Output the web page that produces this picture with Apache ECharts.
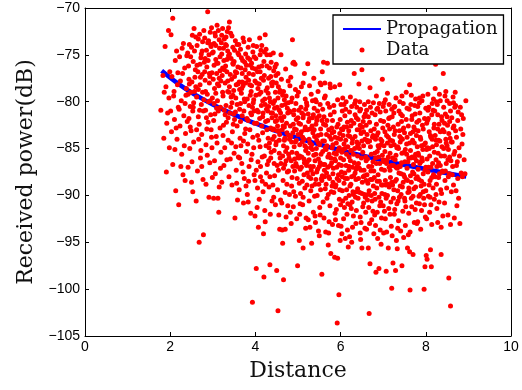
<!DOCTYPE html>
<html>
<head>
<meta charset="utf-8">
<script src="https://cdn.jsdelivr.net/npm/echarts@6/dist/echarts.min.js"></script>
<style>html,body{margin:0;padding:0;background:#fff;}#c{width:522px;height:390px;}</style>
</head>
<body>
<div id="c"></div>
<script>
const xTicks = [0, 2, 4, 6, 8, 10];
const yTicks = [-105, -100, -95, -90, -85, -80, -75, -70];
const propX = [1.8, 2.2, 2.6, 3.0, 3.5, 4.0, 4.5, 5.0, 5.5, 6.0, 6.5, 7.0, 7.5, 8.0, 8.5, 8.95];
const propY = [-76.7, -78.12, -79.29, -80.3, -81.38, -82.32, -83.15, -83.89, -84.56, -85.18, -85.74, -86.26, -86.75, -87.2, -87.63, -87.99];
const dataPoints = [
[1.78,-80.9],[1.85,-83.9],[1.88,-74.1],[1.91,-87.5],[1.96,-72.4],[1.83,-77.2],[1.90,-78.4],[1.94,-81.2],[1.97,-79.6],[1.99,-76.8],[1.92,-82.3],[1.86,-79.0],[1.98,-84.9],
[2.02,-72.85],[2.06,-71.1],[2.04,-77.3],[2.08,-79.4],[2.10,-81.9],[2.03,-83.2],[2.12,-75.6],[2.15,-74.6],[2.17,-78.2],[2.11,-85.1],[2.06,-86.7],[2.19,-80.6],[2.14,-82.8],[2.18,-76.9],[2.09,-78.9],[2.16,-84.0],[2.13,-89.5],[2.01,-81.0],
[2.20,-91.0],[2.22,-75.2],[2.24,-77.8],[2.26,-79.9],[2.28,-74.3],[2.30,-87.8],[2.32,-81.5],[2.34,-76.4],[2.36,-83.4],[2.38,-78.6],[2.23,-82.6],[2.27,-85.6],[2.31,-73.8],[2.35,-80.2],[2.39,-75.1],[2.25,-86.9],[2.29,-77.0],[2.33,-84.7],[2.37,-79.3],[2.21,-80.8],[2.35,-88.4],[2.40,-82.1],
[2.41,-74.8],[2.43,-76.2],[2.45,-78.1],[2.47,-80.5],[2.49,-83.1],[2.50,-88.6],[2.52,-72.9],[2.54,-75.7],[2.56,-72.2],[2.58,-77.4],[2.44,-81.8],[2.46,-85.0],[2.48,-79.0],[2.51,-86.4],[2.53,-81.0],[2.55,-84.3],[2.57,-78.9],[2.59,-76.6],[2.42,-87.0],[2.50,-74.2],[2.55,-80.1],[2.47,-82.7],[2.60,-73.1],[2.53,-89.6],[2.44,-77.6],
[2.61,-90.6],[2.68,-95.0],[2.78,-94.2],[2.62,-79.5],[2.63,-74.0],[2.65,-76.8],[2.66,-81.6],[2.67,-84.0],[2.69,-72.8],[2.70,-78.2],[2.71,-86.0],[2.72,-75.3],[2.73,-80.3],[2.74,-83.5],[2.75,-77.1],[2.76,-73.6],[2.77,-88.3],[2.79,-79.8],[2.64,-87.4],[2.68,-82.4],[2.72,-85.2],[2.75,-74.6],[2.70,-76.0],[2.66,-78.7],[2.78,-81.0],[2.74,-86.9],[2.80,-75.8],[2.62,-83.0],
[2.88,-70.4],[2.81,-73.2],[2.82,-77.7],[2.83,-80.9],[2.84,-84.6],[2.85,-74.5],[2.86,-76.3],[2.87,-79.2],[2.89,-82.2],[2.90,-73.5],[2.91,-75.0],[2.92,-78.0],[2.93,-86.5],[2.94,-72.6],[2.95,-81.4],[2.96,-74.1],[2.97,-83.8],[2.98,-76.9],[2.99,-79.6],[2.84,-88.8],[2.87,-85.7],[2.90,-80.0],[2.93,-77.3],[2.96,-83.0],[2.82,-75.4],[2.99,-88.1],[2.86,-82.9],[2.95,-73.9],[2.91,-90.2],[2.98,-84.9],
[3.02,-90.3],[3.12,-90.3],[3.14,-91.8],[3.15,-89.1],[3.10,-71.85],[3.01,-74.7],[3.03,-76.1],[3.04,-78.6],[3.05,-81.3],[3.06,-73.0],[3.07,-75.5],[3.08,-83.7],[3.09,-77.0],[3.11,-79.9],[3.13,-72.4],[3.16,-74.3],[3.17,-76.7],[3.18,-80.6],[3.19,-85.4],[3.02,-82.0],[3.04,-86.3],[3.07,-79.1],[3.10,-84.4],[3.12,-75.9],[3.14,-78.3],[3.17,-82.8],[3.20,-73.7],[3.06,-87.7],[3.09,-80.7],[3.15,-77.5],[3.18,-87.1],[3.03,-73.8],
[3.23,-72.2],[3.34,-72.5],[3.39,-71.5],[3.21,-74.9],[3.22,-77.2],[3.24,-79.4],[3.25,-82.5],[3.26,-75.6],[3.27,-73.3],[3.28,-84.9],[3.29,-78.0],[3.30,-76.2],[3.31,-80.4],[3.32,-74.0],[3.33,-86.2],[3.35,-77.8],[3.36,-81.7],[3.37,-75.1],[3.38,-79.0],[3.21,-88.6],[3.24,-83.6],[3.27,-80.9],[3.30,-73.9],[3.33,-76.8],[3.36,-84.1],[3.39,-78.4],[3.26,-86.8],[3.32,-82.2],[3.35,-74.6],[3.38,-88.0],[3.23,-76.4],[3.40,-81.2],
[3.52,-92.4],[3.58,-90.5],[3.42,-72.7],[3.43,-75.4],[3.44,-77.6],[3.45,-80.1],[3.46,-83.2],[3.47,-74.2],[3.48,-76.0],[3.49,-78.8],[3.50,-85.5],[3.51,-81.9],[3.53,-73.5],[3.54,-79.6],[3.55,-87.3],[3.56,-76.9],[3.57,-82.6],[3.59,-74.8],[3.41,-86.1],[3.44,-84.4],[3.47,-79.3],[3.50,-75.7],[3.53,-81.1],[3.56,-88.7],[3.59,-78.1],[3.45,-88.9],[3.48,-82.4],[3.51,-77.3],[3.54,-84.8],[3.57,-73.9],[3.42,-80.6],[3.60,-85.9],
[3.61,-75.0],[3.62,-77.9],[3.63,-80.8],[3.64,-83.9],[3.65,-74.4],[3.66,-76.4],[3.67,-79.1],[3.68,-86.6],[3.69,-81.5],[3.70,-75.6],[3.71,-78.3],[3.72,-84.2],[3.73,-73.6],[3.74,-88.2],[3.75,-80.0],[3.76,-76.6],[3.77,-82.9],[3.78,-77.4],[3.79,-85.3],[3.62,-89.4],[3.65,-82.1],[3.68,-78.6],[3.71,-87.5],[3.74,-79.7],[3.77,-74.9],[3.80,-81.8],[3.63,-86.0],[3.66,-84.7],[3.69,-77.0],[3.72,-90.8],[3.75,-83.4],[3.78,-89.0],
[3.81,-89.9],[3.83,-90.7],[3.89,-91.9],[3.99,-92.2],[3.86,-73.4],[3.93,-101.4],[3.82,-75.3],[3.84,-77.7],[3.85,-80.4],[3.87,-83.0],[3.88,-76.1],[3.90,-78.9],[3.91,-81.4],[3.92,-85.6],[3.94,-74.7],[3.95,-77.1],[3.96,-79.8],[3.97,-87.8],[3.98,-82.3],[3.82,-84.5],[3.85,-86.9],[3.88,-79.3],[3.91,-75.9],[3.94,-83.8],[3.97,-81.0],[4.00,-76.5],[3.84,-88.5],[3.87,-78.2],[3.90,-86.2],[3.93,-80.6],[3.96,-84.9],[3.99,-88.4],[3.83,-82.0],[3.95,-74.0],
[4.02,-97.8],[4.07,-93.4],[4.19,-94.1],[4.20,-98.7],[4.01,-75.4],[4.03,-78.0],[4.04,-80.9],[4.05,-83.6],[4.06,-86.4],[4.08,-76.3],[4.09,-79.2],[4.10,-81.8],[4.11,-84.8],[4.12,-88.0],[4.13,-74.5],[4.14,-77.5],[4.15,-82.6],[4.16,-85.9],[4.17,-79.9],[4.18,-89.6],[4.02,-87.3],[4.05,-89.2],[4.08,-84.1],[4.11,-76.8],[4.14,-80.4],[4.17,-83.3],[4.20,-75.7],[4.03,-82.3],[4.06,-78.6],[4.09,-90.4],[4.12,-86.9],[4.15,-74.0],[4.18,-81.2],[4.04,-91.3],[4.16,-88.5],[4.10,-73.2],
[4.23,-72.85],[4.23,-92.8],[4.34,-97.4],[4.21,-77.2],[4.22,-79.7],[4.24,-82.1],[4.25,-84.7],[4.26,-87.6],[4.27,-75.0],[4.28,-78.5],[4.29,-81.0],[4.30,-83.9],[4.31,-86.3],[4.32,-89.1],[4.33,-76.4],[4.35,-80.0],[4.36,-82.8],[4.37,-85.4],[4.38,-78.0],[4.39,-90.6],[4.21,-85.8],[4.24,-88.8],[4.27,-83.0],[4.30,-79.1],[4.33,-84.4],[4.36,-77.3],[4.39,-81.7],[4.22,-91.6],[4.25,-74.4],[4.28,-86.7],[4.31,-80.5],[4.34,-88.0],[4.37,-75.8],[4.40,-84.0],[4.26,-80.8],[4.35,-92.0],
[4.50,-98.0],[4.53,-102.3],[4.55,-92.1],[4.60,-75.0],[4.41,-77.9],[4.42,-80.2],[4.43,-82.9],[4.44,-85.2],[4.45,-87.9],[4.46,-76.3],[4.47,-79.0],[4.48,-81.5],[4.49,-84.3],[4.51,-86.8],[4.52,-89.4],[4.54,-78.4],[4.56,-80.9],[4.57,-83.5],[4.58,-86.0],[4.59,-90.5],[4.41,-88.9],[4.44,-83.7],[4.47,-91.0],[4.50,-82.0],[4.53,-79.6],[4.56,-85.5],[4.59,-81.2],[4.42,-74.8],[4.45,-80.7],[4.48,-77.2],[4.51,-83.1],[4.54,-87.3],[4.57,-93.6],[4.43,-90.2],[4.49,-76.0],[4.58,-78.8],
[4.63,-93.7],[4.64,-95.1],[4.66,-99.0],[4.70,-93.6],[4.61,-77.6],[4.62,-80.4],[4.63,-83.0],[4.64,-85.8],[4.65,-88.4],[4.66,-78.9],[4.67,-81.6],[4.68,-84.1],[4.69,-86.7],[4.70,-89.7],[4.71,-76.5],[4.72,-79.4],[4.73,-82.3],[4.74,-84.9],[4.75,-87.5],[4.76,-91.1],[4.77,-80.1],[4.78,-83.6],[4.79,-86.0],[4.80,-81.0],[4.62,-90.8],[4.65,-82.6],[4.68,-79.8],[4.71,-85.3],[4.74,-88.8],[4.77,-77.8],[4.80,-89.9],[4.66,-87.1],[4.72,-92.3],[4.69,-83.9],[4.75,-80.7],[4.78,-85.6],
[4.87,-73.4],[4.90,-75.8],[4.93,-76.0],[4.88,-75.9],[4.99,-97.5],[4.81,-78.3],[4.82,-81.1],[4.83,-83.7],[4.84,-86.3],[4.85,-89.0],[4.86,-79.6],[4.89,-82.4],[4.91,-84.8],[4.92,-87.4],[4.94,-90.1],[4.95,-80.2],[4.96,-83.0],[4.97,-85.5],[4.98,-88.2],[5.00,-81.7],[4.82,-91.8],[4.85,-84.3],[4.88,-86.9],[4.91,-80.9],[4.94,-78.7],[4.97,-92.5],[5.00,-85.9],[4.83,-77.4],[4.86,-88.1],[4.89,-91.2],[4.92,-82.9],[4.95,-86.6],[4.98,-79.4],[4.84,-93.0],[4.90,-89.6],[4.96,-84.1],
[5.03,-94.8],[5.12,-95.6],[5.12,-78.0],[5.01,-79.0],[5.02,-82.3],[5.04,-84.6],[5.05,-87.2],[5.06,-89.8],[5.07,-80.6],[5.08,-83.2],[5.09,-85.9],[5.10,-88.5],[5.11,-91.0],[5.13,-81.4],[5.14,-84.0],[5.15,-86.5],[5.16,-89.2],[5.17,-82.7],[5.18,-85.2],[5.19,-92.4],[5.20,-80.1],[5.02,-86.0],[5.05,-90.9],[5.08,-78.4],[5.11,-83.8],[5.14,-87.8],[5.17,-79.7],[5.20,-86.8],[5.03,-88.7],[5.06,-83.5],[5.09,-81.2],[5.12,-90.2],[5.15,-77.0],[5.18,-93.5],[5.04,-92.0],[5.16,-84.7],
[5.23,-75.95],[5.32,-95.1],[5.37,-77.5],[5.21,-80.4],[5.22,-83.0],[5.24,-85.5],[5.25,-88.0],[5.26,-90.6],[5.27,-81.8],[5.28,-84.4],[5.29,-86.9],[5.30,-89.5],[5.31,-79.2],[5.33,-82.6],[5.34,-85.1],[5.35,-87.7],[5.36,-91.8],[5.38,-80.7],[5.39,-83.7],[5.40,-86.3],[5.21,-88.9],[5.24,-92.6],[5.27,-78.3],[5.30,-84.9],[5.33,-89.0],[5.36,-81.4],[5.39,-90.1],[5.22,-86.4],[5.25,-82.1],[5.28,-93.4],[5.31,-87.3],[5.34,-79.9],[5.37,-85.7],[5.40,-92.2],[5.26,-84.0],[5.35,-83.3],
[5.50,-94.3],[5.56,-98.4],[5.57,-76.8],[5.60,-75.8],[5.41,-79.8],[5.42,-82.4],[5.43,-85.0],[5.44,-87.5],[5.45,-90.0],[5.46,-81.0],[5.47,-83.6],[5.48,-86.1],[5.49,-88.8],[5.51,-91.3],[5.52,-80.3],[5.53,-82.9],[5.54,-85.6],[5.55,-88.2],[5.58,-84.2],[5.59,-86.7],[5.41,-92.9],[5.44,-84.1],[5.47,-78.9],[5.50,-86.9],[5.53,-89.4],[5.56,-82.0],[5.59,-90.7],[5.42,-88.3],[5.45,-81.7],[5.48,-93.8],[5.51,-84.6],[5.54,-78.2],[5.57,-87.9],[5.43,-80.0],[5.52,-92.1],[5.58,-80.8],
[5.69,-75.9],[5.71,-95.3],[5.77,-96.2],[5.61,-81.6],[5.62,-84.2],[5.63,-86.7],[5.64,-89.3],[5.65,-82.5],[5.66,-85.1],[5.67,-87.6],[5.68,-90.3],[5.70,-80.2],[5.72,-83.0],[5.73,-85.6],[5.74,-88.2],[5.75,-91.1],[5.76,-81.4],[5.78,-84.0],[5.79,-86.5],[5.80,-89.0],[5.61,-92.4],[5.64,-79.4],[5.67,-83.5],[5.70,-87.0],[5.73,-92.8],[5.76,-78.5],[5.79,-82.8],[5.62,-88.0],[5.65,-93.9],[5.68,-84.7],[5.71,-89.9],[5.74,-80.6],[5.77,-86.0],[5.80,-83.3],[5.63,-78.0],[5.72,-94.0],
[5.86,-96.6],[5.93,-96.7],[5.96,-100.6],[5.92,-103.6],[5.99,-94.8],[5.81,-82.0],[5.82,-84.6],[5.83,-87.1],[5.84,-89.7],[5.85,-81.1],[5.87,-83.8],[5.88,-86.3],[5.89,-88.9],[5.90,-91.5],[5.91,-82.7],[5.94,-85.2],[5.95,-87.8],[5.97,-90.4],[5.98,-83.4],[6.00,-86.0],[5.81,-93.1],[5.84,-80.4],[5.87,-91.9],[5.90,-84.4],[5.93,-79.8],[5.96,-88.4],[5.99,-81.9],[5.82,-88.6],[5.85,-85.5],[5.88,-92.6],[5.91,-87.0],[5.94,-82.4],[5.97,-84.9],[6.00,-91.0],[5.86,-78.4],[5.95,-93.2],
[6.11,-94.6],[6.18,-95.5],[6.01,-80.3],[6.02,-82.9],[6.03,-85.4],[6.04,-88.0],[6.05,-90.6],[6.06,-83.6],[6.07,-86.2],[6.08,-88.7],[6.09,-91.3],[6.10,-81.5],[6.12,-84.1],[6.13,-86.8],[6.14,-89.4],[6.15,-92.0],[6.16,-82.2],[6.17,-84.8],[6.19,-87.3],[6.20,-90.0],[6.01,-93.3],[6.04,-81.0],[6.07,-92.5],[6.10,-85.0],[6.13,-80.0],[6.16,-93.7],[6.19,-83.1],[6.02,-87.5],[6.05,-79.6],[6.08,-84.5],[6.11,-88.2],[6.14,-82.7],[6.17,-90.9],[6.20,-85.9],[6.03,-94.1],[6.12,-80.8],
[6.32,-77.0],[6.21,-81.1],[6.22,-83.7],[6.23,-86.3],[6.24,-88.8],[6.25,-91.4],[6.26,-80.5],[6.27,-84.4],[6.28,-87.0],[6.29,-89.6],[6.30,-92.2],[6.31,-82.3],[6.33,-85.0],[6.34,-87.6],[6.35,-90.2],[6.36,-93.0],[6.37,-81.7],[6.38,-84.3],[6.39,-86.9],[6.40,-89.3],[6.21,-94.4],[6.24,-82.6],[6.27,-90.7],[6.30,-85.6],[6.33,-80.2],[6.36,-88.3],[6.39,-83.0],[6.22,-89.0],[6.25,-85.2],[6.28,-93.4],[6.31,-87.9],[6.34,-81.4],[6.37,-91.6],[6.40,-84.7],[6.26,-95.0],[6.35,-79.9],
[6.43,-78.1],[6.50,-76.6],[6.50,-95.6],[6.41,-81.9],[6.42,-84.5],[6.44,-87.1],[6.45,-89.7],[6.46,-92.3],[6.47,-80.8],[6.48,-83.4],[6.49,-86.0],[6.51,-88.6],[6.52,-91.2],[6.53,-82.1],[6.54,-84.7],[6.55,-87.3],[6.56,-89.9],[6.57,-93.5],[6.58,-81.3],[6.59,-85.9],[6.60,-88.4],[6.41,-90.3],[6.44,-83.0],[6.47,-94.7],[6.50,-84.2],[6.53,-88.0],[6.56,-80.3],[6.59,-91.8],[6.42,-86.6],[6.45,-80.0],[6.48,-92.9],[6.51,-82.7],[6.54,-90.8],[6.57,-84.0],[6.60,-82.5],[6.46,-94.0],
[6.65,-95.6],[6.69,-97.3],[6.67,-102.6],[6.69,-78.5],[6.61,-80.9],[6.62,-83.5],[6.63,-86.1],[6.64,-88.7],[6.66,-91.3],[6.68,-82.2],[6.70,-84.8],[6.71,-87.4],[6.72,-90.0],[6.73,-92.6],[6.74,-81.2],[6.75,-83.8],[6.76,-86.4],[6.77,-89.0],[6.78,-94.1],[6.79,-82.9],[6.80,-85.5],[6.61,-93.6],[6.64,-84.3],[6.67,-89.5],[6.70,-80.6],[6.73,-86.9],[6.76,-91.7],[6.79,-88.1],[6.62,-87.8],[6.65,-81.6],[6.68,-93.0],[6.71,-83.1],[6.74,-88.3],[6.77,-80.1],[6.80,-92.1],[6.63,-90.5],
[6.83,-98.2],[6.90,-97.8],[6.98,-77.6],[6.81,-81.4],[6.82,-84.0],[6.84,-86.6],[6.85,-89.2],[6.86,-91.8],[6.87,-80.7],[6.88,-83.3],[6.89,-85.9],[6.91,-88.5],[6.92,-91.1],[6.93,-93.7],[6.94,-82.0],[6.95,-84.6],[6.96,-87.2],[6.97,-89.8],[6.99,-82.8],[7.00,-86.2],[6.81,-90.4],[6.84,-79.4],[6.87,-94.6],[6.90,-84.9],[6.93,-81.1],[6.96,-92.4],[6.99,-88.9],[6.82,-93.2],[6.85,-83.6],[6.88,-87.8],[6.91,-80.2],[6.94,-90.7],[6.97,-84.2],[7.00,-80.5],[6.86,-85.3],[6.95,-95.2],
[7.07,-98.1],[7.12,-95.6],[7.20,-99.9],[7.10,-79.1],[7.01,-82.1],[7.02,-84.7],[7.03,-87.3],[7.04,-89.9],[7.05,-92.5],[7.06,-81.0],[7.08,-83.6],[7.09,-86.2],[7.11,-88.8],[7.13,-91.4],[7.14,-80.3],[7.15,-82.9],[7.16,-85.5],[7.17,-88.1],[7.18,-90.7],[7.19,-93.3],[7.01,-94.0],[7.04,-83.2],[7.07,-90.3],[7.10,-84.4],[7.13,-81.8],[7.16,-92.0],[7.19,-86.8],[7.02,-80.1],[7.05,-88.4],[7.08,-93.9],[7.11,-82.5],[7.14,-87.0],[7.17,-84.1],[7.20,-80.8],[7.03,-91.7],[7.12,-85.9],
[7.23,-97.2],[7.29,-98.0],[7.33,-95.7],[7.21,-81.6],[7.22,-84.2],[7.24,-86.8],[7.25,-89.4],[7.26,-92.0],[7.27,-80.5],[7.28,-83.1],[7.30,-85.7],[7.31,-88.3],[7.32,-90.9],[7.34,-93.5],[7.35,-82.4],[7.36,-85.0],[7.37,-87.6],[7.38,-90.2],[7.39,-80.0],[7.40,-84.3],[7.21,-94.3],[7.24,-82.7],[7.27,-91.5],[7.30,-79.6],[7.33,-87.1],[7.36,-92.7],[7.39,-83.7],[7.22,-88.9],[7.25,-81.2],[7.28,-86.2],[7.31,-94.8],[7.34,-84.8],[7.37,-81.0],[7.40,-89.0],[7.26,-84.6],[7.35,-90.6],
[7.44,-97.5],[7.53,-75.6],[7.57,-95.6],[7.41,-81.3],[7.42,-83.9],[7.43,-86.5],[7.45,-89.1],[7.46,-91.7],[7.47,-80.2],[7.48,-82.8],[7.49,-85.4],[7.50,-88.0],[7.51,-90.6],[7.52,-93.2],[7.54,-81.9],[7.55,-84.5],[7.56,-87.1],[7.58,-89.7],[7.59,-82.6],[7.60,-86.0],[7.41,-93.8],[7.44,-79.4],[7.47,-88.6],[7.50,-83.3],[7.53,-91.2],[7.56,-80.7],[7.59,-94.2],[7.42,-87.7],[7.45,-84.0],[7.48,-94.5],[7.51,-86.4],[7.54,-79.0],[7.57,-88.4],[7.60,-91.9],[7.43,-82.1],[7.55,-85.6],
[7.62,-96.0],[7.63,-100.1],[7.70,-96.3],[7.62,-78.2],[7.61,-80.8],[7.64,-83.4],[7.65,-86.0],[7.66,-88.6],[7.67,-91.2],[7.68,-81.5],[7.69,-84.1],[7.71,-86.7],[7.72,-89.3],[7.73,-92.9],[7.74,-80.4],[7.75,-83.0],[7.76,-85.6],[7.77,-88.2],[7.78,-90.8],[7.79,-82.2],[7.80,-84.8],[7.63,-93.9],[7.66,-79.3],[7.69,-87.5],[7.72,-82.7],[7.75,-91.5],[7.78,-86.3],[7.61,-89.6],[7.64,-85.2],[7.67,-81.9],[7.70,-90.1],[7.73,-84.4],[7.76,-79.7],[7.79,-93.0],
[7.96,-100.0],[7.98,-97.6],[7.81,-80.5],[7.82,-83.1],[7.83,-85.7],[7.84,-88.3],[7.85,-90.9],[7.86,-81.2],[7.87,-83.8],[7.88,-86.4],[7.89,-89.0],[7.90,-91.6],[7.91,-79.9],[7.92,-82.5],[7.93,-85.1],[7.94,-87.7],[7.95,-90.3],[7.97,-81.8],[7.99,-84.4],[8.00,-87.0],[7.81,-92.8],[7.84,-82.0],[7.87,-89.9],[7.90,-84.7],[7.93,-79.4],[7.96,-88.8],[7.99,-92.3],[7.82,-87.2],[7.85,-80.1],[7.88,-93.6],[7.91,-86.0],[7.94,-82.9],[7.97,-91.0],[8.00,-80.7],
[8.01,-96.4],[8.03,-96.8],[8.11,-95.8],[8.13,-97.6],[8.02,-82.3],[8.04,-84.9],[8.05,-87.5],[8.06,-90.1],[8.07,-80.6],[8.08,-83.2],[8.09,-85.8],[8.10,-88.4],[8.12,-91.0],[8.14,-81.4],[8.15,-84.0],[8.16,-86.6],[8.17,-89.2],[8.18,-79.7],[8.19,-82.8],[8.20,-85.4],[8.02,-92.5],[8.05,-79.2],[8.08,-88.9],[8.11,-83.6],[8.14,-93.1],[8.17,-80.9],[8.20,-90.4],[8.03,-86.1],[8.06,-81.8],[8.09,-91.8],[8.12,-87.0],[8.15,-80.2],
[8.23,-76.0],[8.36,-96.3],[8.21,-81.0],[8.22,-83.6],[8.24,-86.2],[8.25,-88.8],[8.26,-91.4],[8.27,-80.3],[8.28,-82.9],[8.29,-85.5],[8.30,-88.1],[8.31,-90.7],[8.32,-79.2],[8.33,-84.2],[8.34,-86.8],[8.35,-89.4],[8.37,-81.6],[8.38,-84.8],[8.39,-87.4],[8.40,-92.2],[8.22,-78.6],[8.25,-84.6],[8.28,-92.9],[8.31,-82.4],[8.34,-79.9],[8.37,-89.8],[8.40,-83.0],[8.24,-89.9],[8.30,-86.5],[8.36,-93.4],
[8.41,-77.0],[8.54,-98.8],[8.58,-101.8],[8.58,-93.1],[8.52,-92.1],[8.42,-80.6],[8.43,-83.2],[8.44,-85.8],[8.45,-88.4],[8.46,-81.3],[8.47,-84.0],[8.48,-86.6],[8.49,-89.2],[8.50,-79.9],[8.51,-82.5],[8.53,-85.1],[8.55,-87.7],[8.56,-80.2],[8.57,-83.9],[8.59,-86.3],[8.60,-89.6],[8.44,-90.8],[8.47,-78.9],[8.50,-84.7],[8.53,-88.0],[8.56,-82.1],
[8.73,-91.1],[8.80,-93.0],[8.83,-87.6],[8.85,-84.5],[8.94,-79.9],[8.61,-81.7],[8.62,-84.3],[8.63,-86.9],[8.64,-79.5],[8.65,-88.9],[8.66,-82.6],[8.68,-85.3],[8.70,-80.4],[8.71,-89.5],[8.72,-83.8],[8.74,-86.4],[8.76,-81.1],[8.77,-90.3],[8.78,-84.9],[8.81,-80.6],[8.82,-82.9],[8.86,-88.0],[8.88,-81.8],[8.90,-86.2],[8.92,-87.7],[8.67,-92.4],[8.69,-79.0],[8.75,-88.2]
];
const denseData = [
[2.42,-79.2],[2.45,-73.9],[2.48,-75.2],[2.51,-77.9],[2.54,-80.6],[2.57,-74.6],[2.60,-78.4],[2.63,-76.1],[2.66,-73.3],[2.69,-80.9],[2.71,-77.4],[2.73,-74.9],[2.76,-79.0],[2.79,-72.4],[2.81,-76.8],[2.83,-78.9],[2.85,-81.7],[2.88,-73.7],[2.89,-75.6],[2.92,-77.0],[2.94,-79.9],[2.97,-72.1],[2.99,-74.8],[3.01,-77.6],[3.03,-80.2],[3.05,-72.7],[3.07,-74.0],[3.09,-75.9],[3.11,-78.1],[3.13,-81.0],[3.15,-73.4],[3.17,-75.2],[3.19,-77.8],[3.21,-72.9],[3.23,-79.0],[3.25,-74.3],[3.27,-76.6],[3.29,-81.4],[3.31,-73.1],[3.33,-75.5],[3.35,-78.9],[3.37,-72.1],[3.39,-74.9],[3.41,-77.1],[3.43,-79.5],[3.45,-73.0],[3.47,-75.9],[3.49,-81.3],[3.51,-74.5],[3.53,-76.8],[3.55,-78.2],[3.57,-80.3],[3.59,-76.3],[3.61,-73.9],[3.63,-78.7],[3.65,-80.2],[3.67,-75.3],[3.69,-77.9],[3.71,-73.2],[3.73,-81.0],[3.75,-75.8],[3.77,-78.0],[3.79,-76.1],[3.81,-79.7],[3.83,-74.2],[3.85,-77.0],[3.87,-75.5],[3.89,-81.2],[3.91,-78.3],[3.93,-76.4],[3.95,-80.1],[3.97,-75.2],[3.99,-77.8],[4.01,-79.3],[4.03,-74.1],[4.05,-76.8],[4.07,-81.1],[4.09,-78.1],[4.11,-75.0],[4.13,-79.0],[4.15,-76.2],[4.17,-81.6],[4.19,-77.7],[4.21,-74.7],[4.23,-80.3],[4.25,-78.8],[4.27,-76.2],[4.29,-82.0],[4.31,-77.5],[4.33,-79.6],[4.35,-75.0],[4.37,-81.2],[4.39,-78.3],[4.41,-83.0],[4.43,-76.7],[4.45,-79.9],[4.47,-82.1],[4.49,-78.0],[4.51,-80.6],[4.53,-77.0],[4.55,-83.1],[4.57,-79.0],[4.59,-81.7],
[4.32,-84.9],[4.36,-86.0],[4.40,-81.2],[4.44,-86.6],[4.48,-84.6],[4.52,-82.6],[4.56,-84.1],[4.60,-86.6],[4.62,-82.0],[4.64,-79.3],[4.66,-84.7],[4.68,-82.7],[4.70,-80.3],[4.72,-86.3],[4.74,-83.3],[4.76,-81.2],[4.78,-87.4],[4.80,-84.0],[4.82,-82.6],[4.84,-80.0],[4.86,-85.4],[4.88,-83.3],[4.90,-81.4],[4.92,-86.1],[4.94,-84.3],[4.96,-81.9],[4.98,-86.9],[5.00,-83.5],[5.02,-80.9],[5.04,-85.8],[5.06,-82.4],[5.08,-87.0],[5.10,-84.3],[5.12,-81.7],[5.14,-86.1],[5.16,-83.0],[5.18,-80.8],[5.20,-84.9],[5.22,-87.6],[5.24,-81.3],[5.26,-86.2],[5.28,-82.9],[5.30,-88.2],[5.32,-84.6],[5.34,-81.7],[5.36,-86.9],[5.38,-83.0],[5.40,-88.8],[5.42,-85.6],[5.44,-82.0],[5.46,-87.2],[5.48,-84.4],[5.50,-81.5],[5.52,-86.5],[5.54,-83.5],[5.56,-88.4],[5.58,-85.3],[5.60,-82.4],[5.62,-87.3],[5.64,-84.9],[5.66,-88.8],[5.68,-82.0],[5.70,-85.9],[5.72,-88.0],[5.74,-83.7],[5.76,-86.8],[5.78,-89.6],[5.80,-84.9],[5.82,-87.7],[5.84,-83.2],[5.86,-86.1],[5.88,-89.1],[5.90,-85.6],[5.92,-88.2],[5.94,-83.9],[5.96,-86.7],[5.98,-89.4],[6.00,-84.0],[6.02,-86.8],[6.04,-89.5],[6.06,-85.1],[6.08,-82.7],[6.10,-87.6],[6.12,-90.3],[6.14,-85.6],[6.16,-88.2],[6.18,-83.6],[6.20,-86.9],[6.22,-91.0],[6.24,-85.2],[6.26,-88.0],[6.28,-84.0],[6.30,-89.9],[6.32,-86.5],[6.34,-83.7],[6.36,-87.2],[6.38,-89.6],[6.40,-85.8],
[6.42,-88.2],[6.44,-85.0],[6.46,-82.5],[6.48,-87.3],[6.50,-89.8],[6.52,-85.4],[6.54,-83.2],[6.56,-87.9],[6.58,-90.2],[6.60,-86.3],[6.62,-84.1],[6.64,-89.9],[6.66,-86.9],[6.68,-84.2],[6.70,-88.3],[6.72,-85.6],[6.74,-90.6],[6.76,-83.6],[6.78,-87.4],[6.80,-89.8],[6.82,-86.0],[6.84,-82.4],[6.86,-88.5],[6.88,-84.7],[6.90,-90.2],[6.92,-86.6],[6.94,-84.0],[6.96,-88.9],[6.98,-85.7],[7.00,-91.1],[7.02,-86.4],[7.04,-85.3],[7.06,-88.9],[7.08,-86.6],[7.10,-90.0],[7.12,-83.8],[7.14,-89.1],[7.16,-87.3],[7.18,-84.7],[7.20,-88.6],[7.22,-86.0],[7.24,-90.3],[7.26,-83.5],[7.28,-88.5],[7.30,-87.0],[7.32,-84.9],[7.34,-89.5],[7.36,-86.9],[7.38,-83.1],[7.40,-86.9],[7.42,-89.9],[7.44,-85.5],[7.46,-83.0],[7.48,-87.8],[7.50,-90.3],[7.52,-85.1],[7.54,-88.3],[7.56,-83.8],[7.58,-86.4],[7.60,-89.2],[7.62,-84.4],[7.64,-87.9],[7.66,-90.3],[7.68,-85.9],[7.70,-83.2],[7.72,-87.7],[7.74,-86.0],[7.76,-89.1],[7.78,-83.6],[7.80,-88.0],[7.82,-85.5],[7.84,-90.1],[7.86,-86.6],[7.88,-84.0],[7.90,-88.5],[7.92,-86.3],[7.94,-89.6],[7.96,-84.6],[7.98,-87.3],[8.00,-89.5],[8.02,-85.1],[8.04,-82.0],[8.06,-87.0],[8.08,-85.0],[8.10,-90.2],[8.12,-83.8],[8.14,-88.1],[8.16,-84.8],[8.18,-87.8],[8.20,-82.4],[8.22,-88.0],[8.24,-84.1],[8.26,-86.9],[8.28,-81.4],[8.30,-84.1],[8.32,-87.7],[8.34,-83.2],[8.36,-85.8],[8.38,-82.0],[8.40,-87.5],[8.42,-85.0],[8.44,-82.3],[8.46,-87.4],[8.48,-84.4],[8.50,-81.6],[8.52,-86.2],[8.54,-83.4],[8.56,-85.9],[8.58,-81.0],[8.60,-84.3],[8.62,-87.8],[8.64,-82.8],[8.66,-85.6],[8.68,-80.6],[8.70,-83.1],[8.72,-86.8],[8.75,-82.0],[8.79,-85.8],[8.84,-81.4],[8.87,-83.5],
[6.05,-83.0],[6.25,-82.0],[6.45,-81.0],[6.65,-80.0],[6.85,-80.8],[7.05,-79.8],[7.25,-80.6],[7.45,-81.5],[7.65,-80.3],[7.85,-79.6],[8.05,-80.9],[8.25,-80.0],[8.45,-79.4],[8.65,-80.1],[7.75,-81.3],[7.15,-81.7],[6.55,-81.6],
[5.52,-78.0],[5.62,-79.6],[5.75,-78.1],[5.98,-78.2],[6.08,-80.3],[6.23,-79.5],[6.38,-80.6]
];

const chart = echarts.init(document.getElementById('c'), null, {renderer: 'canvas'});
const minus = v => String(v).replace('-', '\u2212');
const tickFont = {fontFamily: 'Liberation Sans, Arial, sans-serif', fontSize: 14, color: '#000'};
const serif = 'DejaVu Serif, serif';
const lineData = propX.map((x, i) => [x, propY[i]]);
const allPoints = dataPoints.concat(denseData);

chart.setOption({
  animation: false,
  backgroundColor: '#fff',
  grid: {left: 85, right: 11, top: 8, bottom: 54, containLabel: false},
  legend: {
    orient: 'vertical',
    left: 333, top: 15,
    itemWidth: 38, itemHeight: 5, itemGap: 3,
    padding: [5, 6, 5, 9],
    borderColor: '#000', borderWidth: 1.3,
    backgroundColor: '#fff',
    textStyle: {fontFamily: serif, fontSize: 18, color: '#111'},
    data: [
      {name: 'Propagation', itemStyle: {opacity: 0}},
      {name: 'Data', icon: 'circle'}
    ]
  },
  xAxis: [{
    type: 'value', min: 0, max: 10, interval: 2, position: 'bottom',
    name: 'Distance', nameLocation: 'middle', nameGap: 24,
    nameTextStyle: {fontFamily: serif, fontSize: 22, color: '#111'},
    axisLine: {show: true, onZero: false, lineStyle: {color: '#000', width: 1}},
    axisTick: {show: true, inside: true, length: 4, lineStyle: {color: '#000'}},
    axisLabel: Object.assign({margin: 4, formatter: minus}, tickFont),
    splitLine: {show: false}
  }, {
    type: 'value', min: 0, max: 10, interval: 2, position: 'top',
    axisLine: {show: true, onZero: false, lineStyle: {color: '#000', width: 1}},
    axisTick: {show: true, inside: true, length: 4, lineStyle: {color: '#000'}},
    axisLabel: {show: false}, splitLine: {show: false}
  }],
  yAxis: [{
    type: 'value', min: -105, max: -70, interval: 5, position: 'left',
    name: 'Received power(dB)', nameLocation: 'middle', nameGap: 47,
    nameTextStyle: {fontFamily: serif, fontSize: 22, color: '#111'},
    axisLine: {show: true, onZero: false, lineStyle: {color: '#000', width: 1}},
    axisTick: {show: true, inside: true, length: 4, lineStyle: {color: '#000'}},
    axisLabel: Object.assign({margin: 5, formatter: minus}, tickFont),
    splitLine: {show: false}
  }, {
    type: 'value', min: -105, max: -70, interval: 5, position: 'right',
    axisLine: {show: true, onZero: false, lineStyle: {color: '#000', width: 1}},
    axisTick: {show: true, inside: true, length: 4, lineStyle: {color: '#000'}},
    axisLabel: {show: false}, splitLine: {show: false}
  }],
  series: [{
    name: 'Propagation', type: 'line', data: lineData, xAxisIndex: 0, yAxisIndex: 0,
    symbol: 'none', showSymbol: false, smooth: true, z: 1,
    lineStyle: {color: '#0000ff', width: 4.5}, itemStyle: {color: '#0000ff'}
  }, {
    name: 'Data', type: 'scatter', data: allPoints, xAxisIndex: 0, yAxisIndex: 0,
    symbol: 'circle', symbolSize: 5, z: 2, large: false,
    itemStyle: {color: '#ff0000', opacity: 1}
  }]
});
</script>
</body>
</html>
